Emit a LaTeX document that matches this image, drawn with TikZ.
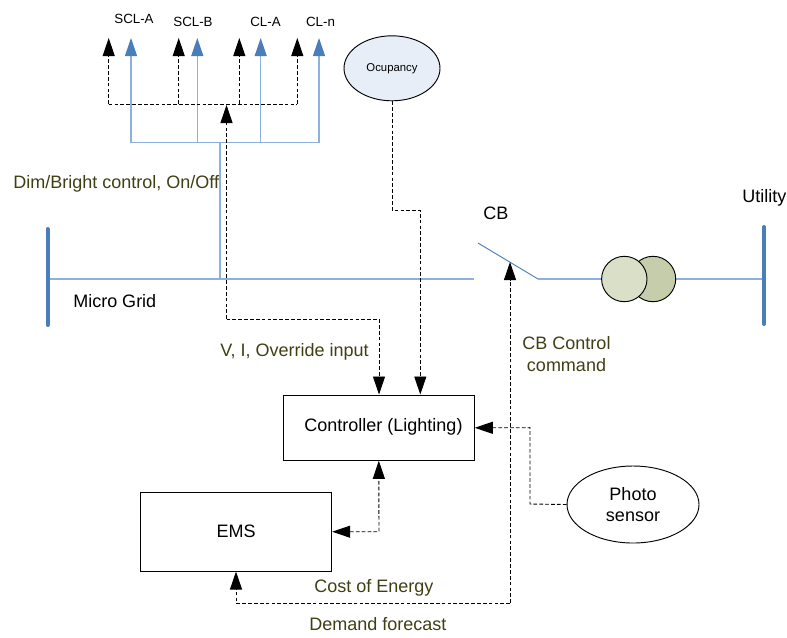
\documentclass[tikz,border=0pt]{standalone}
\usepackage{fontspec}
\setmainfont{Liberation Sans}
\usetikzlibrary{arrows.meta,shapes.geometric}
\definecolor{busblue}{HTML}{4A7EBB}
\definecolor{wireblue}{HTML}{8DB0DF}
\definecolor{olivetxt}{HTML}{3F3F14}
\tikzset{
  x=0.75pt,y=-0.75pt,
  wire/.style={draw=wireblue,line width=0.8pt},
  busbar/.style={draw=busblue,line width=3pt,line cap=round},
  blueup/.style={wire,-{Triangle[length=13.5pt,width=9pt,fill=busblue,color=busblue]}},
  ctl/.style={draw=black,line width=0.7pt,dash pattern=on 2.8pt off 1.6pt},
  ctlarr/.style={ctl,-{Triangle[length=13.5pt,width=9pt,fill=black,color=black,sep=0pt]}},
  ctlboth/.style={ctl,{Triangle[length=13.5pt,width=9pt,fill=black,color=black]}-{Triangle[length=13.5pt,width=9pt,fill=black,color=black]}},
  box/.style={draw=black,line width=0.7pt,fill=white,inner sep=0pt},
  blk/.style={inner sep=0pt,font=\fontsize{13.5}{15.8}\selectfont,text=black},
  small/.style={inner sep=0pt,font=\fontsize{10}{12}\selectfont,text=black},
  olv/.style={inner sep=0pt,font=\fontsize{13.5}{15.8}\selectfont,text=olivetxt},
}
\begin{document}
\begin{tikzpicture}
\useasboundingbox (0,0) rectangle (787,637);
% buses
\coordinate (lbt) at (47.5,229); \coordinate (lbb) at (47.5,325);
\coordinate (rbt) at (764,227); \coordinate (rbb) at (764,324);
\coordinate (lbm) at (47,279); \coordinate (rbm) at (764,279);
\coordinate (cbl) at (474,279); \coordinate (cbr) at (538,279);
\coordinate (cbt) at (478,243); \coordinate (cbp) at (510,262);
\coordinate (feed) at (220,279); \coordinate (feedt) at (220,142.7);
\draw[wire] (lbm) -- (cbl);
\draw[wire] (cbr) -- (rbm);
\draw[draw=busblue,line width=0.7pt] (cbt) -- (cbr);
\draw[busbar] (lbt) -- (lbb);
\draw[busbar] (rbt) -- (rbb);
\node[circle,draw=black,line width=0.7pt,minimum size=45.4*0.75pt,inner sep=0pt,fill={rgb,255:red,198;green,205;blue,170}] (t2) at (653,279) {};
\node[circle,draw=black,line width=0.7pt,minimum size=45.4*0.75pt,inner sep=0pt,fill={rgb,255:red,218;green,223;blue,200}] (t1) at (624.3,279) {};
% blue control tree
\coordinate (h1) at (131,142.7); \coordinate (h2) at (197.3,142.7); \coordinate (h3) at (260.7,142.7); \coordinate (h4) at (319,142.7);
\coordinate (b1) at (131,38); \coordinate (b2) at (197.3,38); \coordinate (b3) at (260.7,38); \coordinate (b4) at (319,38);
\draw[wire] (feed) -- (feedt);
\draw[wire] (h1) -- (h4);
\draw[blueup] (h1) -- (b1);
\draw[blueup] (h2) -- (b2);
\draw[blueup] (h3) -- (b3);
\draw[blueup] (h4) -- (b4);
% dashed tree
\coordinate (d1) at (108.7,104); \coordinate (d2) at (178.7,104); \coordinate (d3) at (239.3,104); \coordinate (d4) at (297.3,104);
\coordinate (k1) at (108.7,38); \coordinate (k2) at (178.7,38); \coordinate (k3) at (239.3,38); \coordinate (k4) at (297.3,38);
\draw[ctl] (d1) -- (d4);
\draw[ctlarr] (d1) -- (k1);
\draw[ctlarr] (d2) -- (k2);
\draw[ctlarr] (d3) -- (k3);
\draw[ctlarr] (d4) -- (k4);
% boxes
\node[box,minimum width=191*0.75pt,minimum height=65*0.75pt] (ctrl) at (378.8,427.8) {};
\node[blk] at (383.5,427) {Controller (Lighting)};
\node[box,minimum width=191.4*0.75pt,minimum height=78.7*0.75pt] (ems) at (236,531.7) {};
\node[blk] at (236,531) {EMS};
\node[ellipse,draw=black,line width=0.7pt,fill={rgb,255:red,232;green,238;blue,247},minimum width=96*0.75pt,minimum height=65*0.75pt,inner sep=0pt] (occ) at (392,68.3) {};
\node[small,font=\fontsize{8.5}{10}\selectfont,anchor=base] at (392,71.5) {Ocupancy};
\node[ellipse,draw=black,line width=0.7pt,fill=white,minimum width=132*0.75pt,minimum height=77*0.75pt,inner sep=0pt] (photo) at (633,504.5) {};
\node[blk,align=center] at (633,505) {Photo\\sensor};
% control connectors
\coordinate (vt) at (226.5,105);
\coordinate (v1) at (226.5,319); \coordinate (v2) at (379,319);
\draw[ctlarr] (v1) -- (vt);
\draw[ctlarr] (v1) -- (v2) -- (379,394.5);
\coordinate (o1) at (392,210); \coordinate (o2) at (420.3,210);
\draw[ctlarr] (occ.south) -- (o1) -- (o2) -- (420.3,394.5);
\coordinate (c1) at (510,603); \coordinate (c2) at (236,603);
\draw[ctlarr] (c1) -- (cbp);
\draw[ctlarr] (c1) -- (c2) -- (ems.south);
\coordinate (p1) at (530,504); \coordinate (p2) at (530,427.7);
\draw[ctlarr] (photo.west) -- (p1) -- (p2) -- (ctrl.east);
\coordinate (e1) at (379,531.7);
\draw[ctlboth] (ems.east) -- (e1) -- (ctrl.south);
% labels
\node[small,anchor=base] at (134,23) {SCL-A};
\node[small,anchor=base] at (193,26) {SCL-B};
\node[small,anchor=base] at (265.5,26) {CL-A};
\node[small,anchor=base] at (320.5,26) {CL-n};
\node[olv,anchor=base west] at (13,188) {Dim/Bright control, On/Off};
\node[blk,anchor=base west] at (73,307.5) {Micro Grid};
\node[olv,anchor=base west] at (220,356) {V, I, Override input};
\node[blk,anchor=base west] at (483,219) {CB};
\node[blk,anchor=base west] at (742,202.5) {Utility};
\node[olv,anchor=base] at (566.5,349.5) {CB Control};
\node[olv,anchor=base] at (566.5,371.5) {command};
\node[olv,anchor=base west] at (314,592.5) {Cost of Energy};
\node[olv,anchor=base west] at (309,630.5) {Demand forecast};
\end{tikzpicture}
\end{document}
